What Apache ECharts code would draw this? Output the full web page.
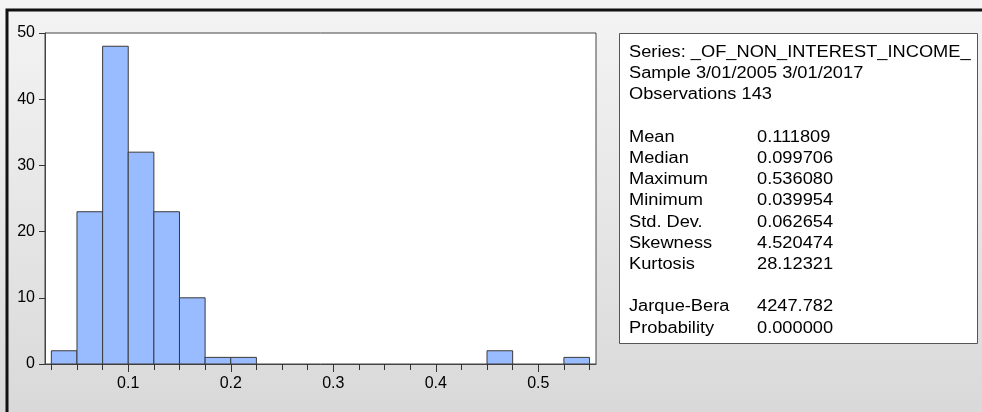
<!DOCTYPE html>
<html>
<head>
<meta charset="utf-8">
<script src="https://cdn.jsdelivr.net/npm/echarts@6/dist/echarts.min.js"></script>
<style>
  html, body { margin: 0; padding: 0; }
  #hist { width: 982px; height: 412px; }
</style>
</head>
<body>
<div id="hist"></div>
<script>
// histogram bins (lower edge) and counts
var binStarts = [0.025, 0.05, 0.075, 0.1, 0.125, 0.15, 0.175, 0.2, 0.225, 0.25, 0.275,
                 0.3, 0.325, 0.35, 0.375, 0.4, 0.425, 0.45, 0.475, 0.5, 0.525];
var binCounts = [2, 23, 48, 32, 23, 10, 1, 1, 0, 0, 0,
                 0, 0, 0, 0, 0, 0, 2, 0, 0, 1];
var binWidth = 0.025;

var xMinorTicks = [0.025, 0.05, 0.075, 0.1, 0.125, 0.15, 0.175, 0.2, 0.225, 0.25, 0.275,
                   0.3, 0.325, 0.35, 0.375, 0.4, 0.425, 0.45, 0.475, 0.5, 0.525, 0.55];
var xMajorTicks = [0.1, 0.2, 0.3, 0.4, 0.5];

// stats box
var headerLines = ['Series: _OF_NON_INTEREST_INCOME_', 'Sample 3/01/2005 3/01/2017', 'Observations 143'];
var statLabels = ['Mean', 'Median', 'Maximum', 'Minimum', 'Std. Dev.', 'Skewness', 'Kurtosis', '', 'Jarque-Bera', 'Probability'];
var statValues = ['0.111809', '0.099706', '0.536080', '0.039954', '0.062654', '4.520474', '28.12321', '', '4247.782', '0.000000'];

var dom = document.getElementById('hist');
var myChart = echarts.init(dom, null, { renderer: 'canvas' });

var FONT = '"Liberation Sans", Arial, sans-serif';
var data = binStarts.map(function (s, i) { return [s, s + binWidth, binCounts[i]]; });

var labelCol = headerLines.concat(['']).concat(statLabels).join('\n');
var valueCol = ['', '', '', ''].concat(statValues).join('\n');

var option = {
  animation: false,
  backgroundColor: {
    type: 'linear', x: 0, y: 0, x2: 0, y2: 1,
    colorStops: [{ offset: 0, color: '#f4f4f4' }, { offset: 1, color: '#d9d9d9' }]
  },
  grid: {
    left: 45, top: 33, width: 551, height: 331,
    show: true, backgroundColor: '#ffffff', borderColor: '#444', borderWidth: 1
  },
  xAxis: [
    {
      type: 'value', min: 0.0188, max: 0.5563,
      splitLine: { show: false },
      axisLine: { lineStyle: { color: '#444' } },
      axisTick: { customValues: xMinorTicks, length: 6, lineStyle: { color: '#333' } },
      axisLabel: { show: false }
    },
    {
      type: 'value', min: 0.0188, max: 0.5563, position: 'bottom',
      splitLine: { show: false },
      axisLine: { show: false },
      axisTick: { customValues: xMajorTicks, length: 8, lineStyle: { color: '#333' } },
      axisLabel: {
        customValues: xMajorTicks, margin: 12, color: '#000',
        fontFamily: FONT, fontSize: 16
      }
    }
  ],
  yAxis: {
    type: 'value', min: 0, max: 50, interval: 10,
    splitLine: { show: false },
    axisLine: { show: true, lineStyle: { color: '#444' } },
    axisTick: { show: true, length: 6, lineStyle: { color: '#333' } },
    axisLabel: { margin: 10, color: '#000', fontFamily: FONT, fontSize: 16 }
  },
  series: [{
    type: 'custom',
    xAxisIndex: 0,
    data: data,
    renderItem: function (params, api) {
      var n = api.value(2);
      if (!n) return;
      var p0 = api.coord([api.value(0), n]);
      var p1 = api.coord([api.value(1), 0]);
      return {
        type: 'rect',
        shape: { x: p0[0], y: p0[1], width: p1[0] - p0[0], height: p1[1] - p0[1] },
        style: { fill: '#99bbff', stroke: '#3a3a3a', lineWidth: 1 }
      };
    }
  }],
  graphic: [
    {
      type: 'rect', silent: true, z: 10,
      shape: { x: 7, y: 10, width: 1000, height: 430 },
      style: { fill: 'none', stroke: '#111', lineWidth: 3 }
    },
    {
      type: 'rect', silent: true, z: 10,
      shape: { x: 619.5, y: 33.5, width: 358, height: 310 },
      style: { fill: '#ffffff', stroke: '#555', lineWidth: 1 }
    },
    {
      type: 'text', silent: true, z: 11, x: 629, y: 42, scaleX: 1.14,
      style: { text: labelCol, font: '16px ' + FONT, fill: '#000', lineHeight: 21.2, verticalAlign: 'top' }
    },
    {
      type: 'text', silent: true, z: 11, x: 757, y: 42, scaleX: 1.14,
      style: { text: valueCol, font: '16px ' + FONT, fill: '#000', lineHeight: 21.2, verticalAlign: 'top' }
    }
  ]
};

myChart.setOption(option);
window.addEventListener('resize', myChart.resize);
</script>
</body>
</html>
